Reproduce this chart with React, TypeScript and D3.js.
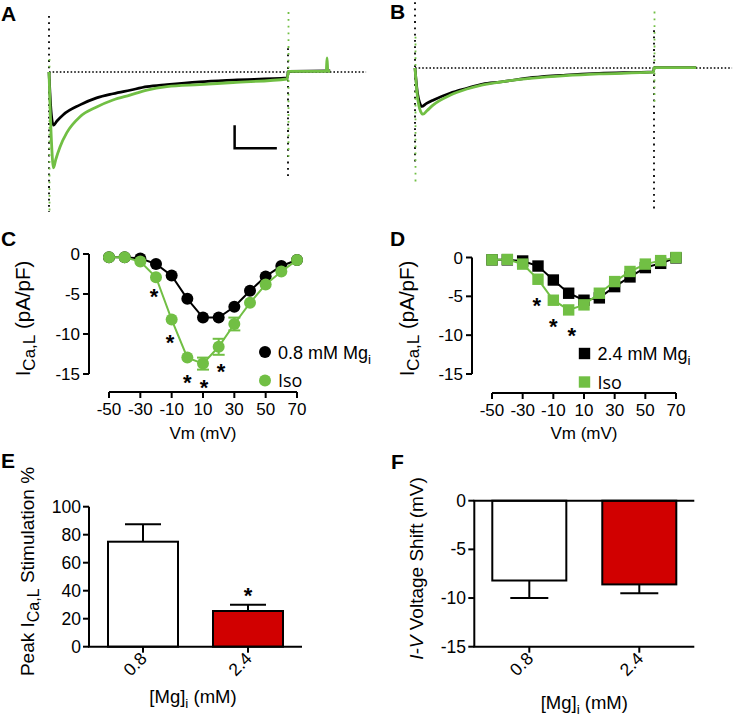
import React from 'react';
import * as d3 from 'd3';

const GREEN = '#71bf44';
const RED = '#d10000';
const FONT = 'Liberation Sans, Arial, Helvetica, sans-serif';

// ---- Panel A / B current traces: [time (ms), current (pA/pF)] ----
const traceACtrl: [number, number][] = [
  [0, 0], [2.5, -5.4], [5.6, -7.6], [10, -7.0], [17.9, -6.1], [38.9, -4.7], [59.8, -3.7], [80.3, -3.1],
  [101.6, -2.6], [123, -2.1], [148, -1.8], [189, -1.4], [231, -1.15], [299, -0.85], [300.5, 0.1], [353, 0.15],
];
const traceAIso: [number, number][] = [
  [0, 0], [3, -9.7], [5.6, -13.7], [8.5, -12.5], [13.8, -10.7], [22.2, -8.7], [38.9, -6.4], [59.8, -5.0],
  [80.3, -4.0], [101.6, -3.3], [123, -2.6], [148, -2.1], [189, -1.8], [231, -1.5], [299, -1.0], [300.5, 0.1],
  [348, 0.1], [349, 2.0], [350, 0.1], [353, 0.1],
];
const traceBCtrl: [number, number][] = [
  [0, 0], [3, -3.5], [6, -5.0], [8.4, -5.5], [14, -5.1], [22.6, -4.6], [43.9, -3.6], [65, -2.9], [85, -2.3],
  [107, -2.0], [148, -1.35], [189, -1.0], [231, -0.75], [299, -0.55], [300.5, 0.05], [353, 0.05],
];
const traceBIso: [number, number][] = [
  [0, 0], [3, -4.0], [7, -6.2], [10, -6.6], [15, -6.1], [22.6, -5.3], [43.9, -3.9], [65, -3.0], [85, -2.4],
  [107, -2.0], [148, -1.45], [189, -1.1], [231, -0.85], [299, -0.6], [300.5, 0.05], [353, 0.05],
];
// capacitive artifacts: [time, top, bottom]
const artifactsACtrl: [number, number, number][] = [[0, 8, -20], [300, 3.4, -15.4]];
const artifactsAIso: [number, number, number][] = [[0, 2.4, -20], [300, 9.1, -12.6]];
const artifactsBCtrl: [number, number, number][] = [[0, 9.4, -13.9], [300, 5.4, -20.3]];
const artifactsBIso: [number, number, number][] = [[0, 5, -16.4], [300, 8.6, -5.3]];
const baselineEnd = 398;
const scaleBar = { t0: 233, dt: 53, i0: -7.6, di: -3.3 };

// ---- Panels C / D: I-V relationships ----
const vm = [-50, -40, -30, -20, -10, 0, 10, 20, 30, 40, 50, 60, 70];
const ivCCtrl = [-0.4, -0.4, -0.55, -1.25, -2.7, -5.6, -7.95, -7.95, -6.6, -4.6, -2.8, -1.5, -0.75];
const ivCIso = [-0.4, -0.4, -0.95, -2.9, -8.2, -12.95, -13.7, -11.6, -8.75, -6.1, -3.8, -2.2, -0.75];
const ivCIsoErr = [0, 0, 0, 0, 0, 0, 0.75, 1.0, 0.8, 0, 0, 0, 0];
const starsC: [number, number][] = [[-21.3, -4.7], [-11, -10.4], [0, -15.4], [10.6, -16.1], [21.5, -14.0]];
const ivDCtrl = [-0.3, -0.3, -0.45, -1.1, -2.9, -4.6, -5.5, -5.2, -3.75, -2.5, -1.3, -0.75, -0.05];
const ivDIso = [-0.3, -0.25, -0.85, -2.8, -5.5, -6.75, -6.1, -4.6, -3.1, -1.8, -0.85, -0.4, 0];
const starsD: [number, number][] = [[-20.8, -5.5], [-10, -8.2], [2, -9.4]];
const ivYTicks = [0, -5, -10, -15];
const ivXTicks = [-50, -30, -10, 10, 30, 50, 70];

// ---- Panels E / F: bar charts ----
const mgCats = ['0.8', '2.4'];
const stimValues = [75, 25.5];
const stimErr = [12.5, 4.5];
const stimStar = 40.5;
const stimTicks = [0, 20, 40, 60, 80, 100];
const shiftValues = [-8.2, -8.6];
const shiftErr = [1.8, 0.9];
const shiftTicks = [0, -5, -10, -15];
const barFills = ['#ffffff', RED];

type Pt = [number, number];

function Trace({ xs, ys, ctrl, iso, artC, artI }: any) {
  const line = d3.line<Pt>().x(d => xs(d[0])).y(d => ys(d[1])).curve(d3.curveMonotoneX);
  return (
    <g>
      {artC.map((a: number[], i: number) => (
        <line key={'ac' + i} x1={xs(a[0])} x2={xs(a[0])} y1={ys(a[1])} y2={ys(a[2])}
          stroke="#000" strokeWidth={1.8} strokeDasharray="1.8 4.5" />
      ))}
      {artI.map((a: number[], i: number) => (
        <line key={'ai' + i} x1={xs(a[0]) + 0.5} x2={xs(a[0]) + 0.5} y1={ys(a[1])} y2={ys(a[2])}
          stroke={GREEN} strokeWidth={1.8} strokeDasharray="1.8 5" strokeDashoffset={3} />
      ))}
      <line x1={xs(0)} x2={xs(baselineEnd)} y1={ys(0)} y2={ys(0)} stroke="#000" strokeWidth={1.6} strokeDasharray="1.6 2" />
      <path d={line(ctrl) || ''} fill="none" stroke="#000" strokeWidth={2.7} />
      <path d={line(iso) || ''} fill="none" stroke={GREEN} strokeWidth={2.8} />
    </g>
  );
}

function IVPanel({ xs, ys, axisX, axisY, ctrl, iso, isoErr, stars, square, legendX, legendY, legendText }: any) {
  const line = d3.line<number>().x((_, i) => xs(vm[i])).y(d => ys(d));
  const marker = (cx: number, cy: number, fill: string, key: string) =>
    square ? <rect key={key} x={cx - 5.7} y={cy - 5.7} width={11.4} height={11.4} fill={fill} />
      : <circle key={key} cx={cx} cy={cy} r={6} fill={fill} />;
  const [y0, y1] = ys.range();
  const [x0, x1] = xs.range();
  return (
    <g fontFamily={FONT}>
      {/* y axis */}
      <line x1={axisX} x2={axisX} y1={y0} y2={y1} stroke="#000" strokeWidth={2} />
      {ivYTicks.map(t => (
        <g key={'yt' + t}>
          <line x1={axisX - 6} x2={axisX} y1={ys(t)} y2={ys(t)} stroke="#000" strokeWidth={2} />
          <text x={axisX - 9} y={ys(t) + 6} textAnchor="end" fontSize={17}>{t}</text>
        </g>
      ))}
      {/* x axis */}
      <line x1={x0} x2={x1} y1={axisY} y2={axisY} stroke="#000" strokeWidth={2} />
      {ivXTicks.map(t => (
        <g key={'xt' + t}>
          <line x1={xs(t)} x2={xs(t)} y1={axisY} y2={axisY + 6} stroke="#000" strokeWidth={2} />
          <text x={xs(t)} y={axisY + 22.5} textAnchor="middle" fontSize={17}>{t}</text>
        </g>
      ))}
      <text x={(x0 + x1) / 2} y={439} textAnchor="middle" fontSize={17}>Vm (mV)</text>
      {/* data */}
      <path d={line(ctrl) || ''} fill="none" stroke="#000" strokeWidth={2} />
      {ctrl.map((v: number, i: number) => marker(xs(vm[i]), ys(v), '#000', 'c' + i))}
      <path d={line(iso) || ''} fill="none" stroke={GREEN} strokeWidth={2} />
      {isoErr && isoErr.map((e: number, i: number) => e > 0 ? (
        <g key={'e' + i} stroke={GREEN} strokeWidth={2}>
          <line x1={xs(vm[i])} x2={xs(vm[i])} y1={ys(iso[i] - e)} y2={ys(iso[i] + e)} />
          <line x1={xs(vm[i]) - 6} x2={xs(vm[i]) + 6} y1={ys(iso[i] - e)} y2={ys(iso[i] - e)} />
          <line x1={xs(vm[i]) - 6} x2={xs(vm[i]) + 6} y1={ys(iso[i] + e)} y2={ys(iso[i] + e)} />
        </g>
      ) : null)}
      {iso.map((v: number, i: number) => marker(xs(vm[i]), ys(v), GREEN, 'g' + i))}
      {stars.map((s: Pt, i: number) => (
        <text key={'s' + i} x={xs(s[0])} y={ys(s[1]) + 12.5} textAnchor="middle" fontSize={22} fontWeight="bold">*</text>
      ))}
      {/* legend */}
      {marker(legendX, legendY, '#000', 'l1')}
      <text x={legendX + 13} y={legendY + 6.5} fontSize={18}>
        {legendText}<tspan dy={5} fontSize={13.5}>i</tspan>
      </text>
      {marker(legendX, legendY + 28.5, GREEN, 'l2')}
      <text x={legendX + 13} y={legendY + 35} fontSize={18} fontFamily="Open Sans, sans-serif">Iso</text>
    </g>
  );
}

function CaLabel({ x, y, before, after, size = 20.5, sub = 17 }: any) {
  return (
    <text transform={`translate(${x},${y}) rotate(-90)`} textAnchor="middle" fontSize={size} fontFamily={FONT}>
      {before}I<tspan dy={4.5} fontSize={sub}>Ca,L</tspan><tspan dy={-4.5}>{after}</tspan>
    </text>
  );
}

export default function App() {
  const xA = d3.scaleLinear().domain([0, 300]).range([49, 288]);
  const yA = d3.scaleLinear().domain([0, -15]).range([72, 177]);
  const xB = d3.scaleLinear().domain([0, 300]).range([415, 654]);
  const yB = d3.scaleLinear().domain([0, -15]).range([68, 173]);

  const xC = d3.scaleLinear().domain([-50, 70]).range([109, 297]);
  const yC = d3.scaleLinear().domain([0, -15]).range([254, 374]);
  const xD = d3.scaleLinear().domain([-50, 70]).range([492, 676]);
  const yD = d3.scaleLinear().domain([0, -15]).range([257.5, 374]);

  const xE = d3.scaleBand().domain(mgCats).range([89, 302]).paddingInner(1 / 3).paddingOuter(0.181);
  const yE = d3.scaleLinear().domain([0, 100]).range([646.7, 506.7]);
  const xF = d3.scaleBand().domain(mgCats).range([474.3, 694.3]).paddingInner(0.327).paddingOuter(0.1636);
  const yF = d3.scaleLinear().domain([0, -15]).range([500.7, 646.7]);

  const letter = (t: string, x: number, y: number) => (
    <text x={x} y={y} fontSize={21} fontWeight="bold" fontFamily={FONT}>{t}</text>
  );

  return (
    <svg width={733} height={721} style={{ position: 'absolute', left: 0, top: 0, background: '#fff' }}>
      <rect width={733} height={721} fill="#fff" />
      {letter('A', 1, 21)}
      {letter('B', 390, 19)}
      {letter('C', 1, 246)}
      {letter('D', 390, 246)}
      {letter('E', 1, 468)}
      {letter('F', 391, 469)}

      <Trace xs={xA} ys={yA} ctrl={traceACtrl} iso={traceAIso} artC={artifactsACtrl} artI={artifactsAIso} />
      <path d={`M${xA(scaleBar.t0)},${yA(scaleBar.i0)} V${yA(scaleBar.i0 + scaleBar.di)} H${xA(scaleBar.t0 + scaleBar.dt)}`}
        fill="none" stroke="#000" strokeWidth={2.5} />
      <Trace xs={xB} ys={yB} ctrl={traceBCtrl} iso={traceBIso} artC={artifactsBCtrl} artI={artifactsBIso} />

      <IVPanel xs={xC} ys={yC} axisX={89} axisY={392} ctrl={ivCCtrl} iso={ivCIso} isoErr={ivCIsoErr}
        stars={starsC} square={false} legendX={265} legendY={352} legendText="0.8 mM Mg" />
      <CaLabel x={30} y={318.5} before="" after=" (pA/pF)" />
      <IVPanel xs={xD} ys={yD} axisX={472} axisY={393} ctrl={ivDCtrl} iso={ivDIso} isoErr={null}
        stars={starsD} square={true} legendX={584.5} legendY={353.5} legendText="2.4 mM Mg" />
      <CaLabel x={414} y={318.5} before="" after=" (pA/pF)" />

      {/* Panel E */}
      <g fontFamily={FONT}>
        {mgCats.map((c, i) => {
          const bx = xE(c)!, bw = xE.bandwidth(), cx = bx + bw / 2;
          return (
            <g key={'e' + c}>
              <line x1={cx} x2={cx} y1={yE(stimValues[i])} y2={yE(stimValues[i] + stimErr[i])} stroke="#000" strokeWidth={2} />
              <line x1={cx - 18} x2={cx + 18} y1={yE(stimValues[i] + stimErr[i])} y2={yE(stimValues[i] + stimErr[i])} stroke="#000" strokeWidth={2} />
              <rect x={bx} y={yE(stimValues[i])} width={bw} height={yE(0) - yE(stimValues[i])} fill={barFills[i]} stroke="#000" strokeWidth={2} />
              <line x1={cx} x2={cx} y1={yE(0)} y2={yE(0) + 6} stroke="#000" strokeWidth={2} />
              <text transform={`translate(${cx + 5},${yE(0) + 13}) rotate(-45)`} textAnchor="end" fontSize={17.5}>{c}</text>
            </g>
          );
        })}
        <text x={xE('2.4')! + xE.bandwidth() / 2} y={yE(stimStar) + 12.5} textAnchor="middle" fontSize={22} fontWeight="bold">*</text>
        <line x1={89} x2={89} y1={yE(100)} y2={yE(0)} stroke="#000" strokeWidth={2} />
        <line x1={88} x2={302} y1={yE(0)} y2={yE(0)} stroke="#000" strokeWidth={2} />
        {stimTicks.map(t => (
          <g key={'et' + t}>
            <line x1={83} x2={89} y1={yE(t)} y2={yE(t)} stroke="#000" strokeWidth={2} />
            <text x={81} y={yE(t) + 6} textAnchor="end" fontSize={17.5}>{t}</text>
          </g>
        ))}
        <text x={193} y={703} textAnchor="middle" fontSize={18.5}>
          [Mg]<tspan dy={5} fontSize={13.5}>i</tspan><tspan dy={-5}> (mM)</tspan>
        </text>
      </g>
      <CaLabel x={34} y={571.5} before="Peak " after=" Stimulation %" size={19} sub={16} />

      {/* Panel F */}
      <g fontFamily={FONT}>
        {mgCats.map((c, i) => {
          const bx = xF(c)!, bw = xF.bandwidth(), cx = bx + bw / 2;
          return (
            <g key={'f' + c}>
              <line x1={cx} x2={cx} y1={yF(shiftValues[i])} y2={yF(shiftValues[i] - shiftErr[i])} stroke="#000" strokeWidth={2} />
              <line x1={cx - 19} x2={cx + 19} y1={yF(shiftValues[i] - shiftErr[i])} y2={yF(shiftValues[i] - shiftErr[i])} stroke="#000" strokeWidth={2} />
              <rect x={bx} y={yF(0)} width={bw} height={yF(shiftValues[i]) - yF(0)} fill={barFills[i]} stroke="#000" strokeWidth={2} />
              <line x1={cx} x2={cx} y1={yF(-15)} y2={yF(-15) + 6} stroke="#000" strokeWidth={2} />
              <text transform={`translate(${cx + 5},${yF(-15) + 13}) rotate(-45)`} textAnchor="end" fontSize={17.5}>{c}</text>
            </g>
          );
        })}
        <line x1={474.3} x2={474.3} y1={yF(0)} y2={yF(-15)} stroke="#000" strokeWidth={2} />
        <line x1={473.3} x2={694.3} y1={yF(0)} y2={yF(0)} stroke="#000" strokeWidth={2} />
        <line x1={473.3} x2={694.3} y1={yF(-15)} y2={yF(-15)} stroke="#000" strokeWidth={2} />
        {shiftTicks.map(t => (
          <g key={'ft' + t}>
            <line x1={468.3} x2={474.3} y1={yF(t)} y2={yF(t)} stroke="#000" strokeWidth={2} />
            <text x={466} y={yF(t) + 6} textAnchor="end" fontSize={17.5}>{t}</text>
          </g>
        ))}
        <text x={584.3} y={709} textAnchor="middle" fontSize={18.5}>
          [Mg]<tspan dy={5} fontSize={13.5}>i</tspan><tspan dy={-5}> (mM)</tspan>
        </text>
        <text transform="translate(423,568.5) rotate(-90)" textAnchor="middle" fontSize={19}>
          <tspan fontStyle="italic">I-V</tspan> Voltage Shift (mV)
        </text>
      </g>
    </svg>
  );
}
